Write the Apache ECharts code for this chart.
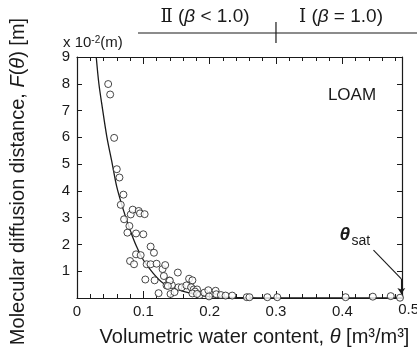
<!DOCTYPE html>
<html>
<head>
<meta charset="utf-8">
<script src="https://cdn.jsdelivr.net/npm/echarts@6/dist/echarts.min.js"></script>
<style>
html, body { margin: 0; padding: 0; background: #fff; }
#main { width: 417px; height: 356px; }
</style>
</head>
<body>
<div id="main"></div>
<script>
// measured points: theta [m3/m3] and F(theta) [x 10^-2 m]
var thetaObs = [0.047, 0.050, 0.056, 0.060, 0.064, 0.070, 0.066, 0.071, 0.076, 0.079,
                0.081, 0.084, 0.093, 0.095, 0.102, 0.089, 0.100, 0.089, 0.096, 0.080,
                0.086, 0.111, 0.116, 0.105, 0.111, 0.120, 0.103, 0.117, 0.129, 0.133,
                0.131, 0.135, 0.139, 0.143, 0.152, 0.153, 0.123, 0.141, 0.147, 0.158,
                0.165, 0.169, 0.174, 0.172, 0.176, 0.181, 0.178, 0.185, 0.192, 0.198,
                0.199, 0.209, 0.210, 0.217, 0.224, 0.234, 0.256, 0.260, 0.287, 0.302,
                0.405, 0.446, 0.473, 0.487, 0.174, 0.181, 0.140, 0.137];
var fObs = [7.99, 7.60, 5.98, 4.81, 4.50, 3.86, 3.48, 2.94, 2.44, 2.69,
            3.12, 3.30, 3.25, 3.16, 3.13, 2.41, 2.38, 1.63, 1.60, 1.38,
            1.26, 1.92, 1.69, 1.26, 1.26, 1.28, 0.69, 0.66, 1.08, 1.23,
            0.82, 0.47, 0.65, 0.48, 0.95, 0.40, 0.18, 0.15, 0.22, 0.40,
            0.47, 0.72, 0.66, 0.40, 0.32, 0.32, 0.24, 0.11, 0.20, 0.29,
            0.06, 0.27, 0.14, 0.11, 0.09, 0.09, 0.03, 0.03, 0.03, 0.03,
            0.03, 0.05, 0.07, 0.01, 0.17, 0.15, 0.65, 0.45];

// fitted curve
var thetaFit = [0.029, 0.033, 0.038, 0.045, 0.053, 0.060, 0.070, 0.080, 0.090, 0.100,
                0.115, 0.130, 0.150, 0.175, 0.200, 0.250, 0.300, 0.490];
var fFit = [9.0, 8.0, 7.14, 6.02, 5.03, 4.15, 3.28, 2.54, 1.91, 1.42,
            0.92, 0.55, 0.33, 0.15, 0.05, 0.01, 0.0, 0.0];

// theta_sat pointer (theta, F)
var satPointer = [[0.447, 1.79], [0.489, 0.71]];
var satArrowEnd = [0.489, 0.15];

var font = 'Liberation Sans, Arial, sans-serif';
var ink = '#1a1a1a';

var chart = echarts.init(document.getElementById('main'));

var obs = thetaObs.map(function (t, i) { return [t, fObs[i]]; });
var fit = thetaFit.map(function (t, i) { return [t, fFit[i]]; });

function xAxisBase(extra) {
  var a = {
    type: 'value',
    min: 0,
    max: 0.49,
    interval: 0.1,
    axisLine: { show: true, onZero: false, lineStyle: { color: ink, width: 1.2 } },
    axisTick: { show: true, inside: true, length: 7, lineStyle: { color: ink } },
    minorTick: { show: true, splitNumber: 5, length: 4, lineStyle: { color: ink } },
    axisLabel: { show: false },
    splitLine: { show: false },
    minorSplitLine: { show: false }
  };
  for (var k in extra) a[k] = extra[k];
  return a;
}

function yAxisBase(extra) {
  var a = {
    type: 'value',
    min: 0,
    max: 9,
    interval: 1,
    axisLine: { show: true, onZero: false, lineStyle: { color: ink, width: 1.2 } },
    axisTick: { show: true, inside: true, length: 5, lineStyle: { color: ink } },
    axisLabel: { show: false },
    splitLine: { show: false }
  };
  for (var k in extra) a[k] = extra[k];
  return a;
}

var option = {
  animation: false,
  backgroundColor: '#fff',
  textStyle: { fontFamily: font, color: ink },
  grid: { left: 73, right: 15, top: 57, bottom: 58 },
  xAxis: [
    xAxisBase({
      position: 'bottom',
      axisLabel: {
        show: true, color: ink, fontSize: 15, margin: 6,
        formatter: function (v) {
          if (v > 0.45) return '';
          return v === 0 ? '0' : v.toFixed(1);
        }
      },
      name: 'Volumetric water content, {i|θ} [m³/m³]',
      nameLocation: 'middle',
      nameGap: 29,
      nameTextStyle: {
        fontSize: 20, color: ink, fontFamily: font, padding: [0, 0, 0, 30],
        rich: { i: { fontSize: 20, fontStyle: 'italic', color: ink, fontFamily: font } }
      }
    }),
    xAxisBase({ position: 'top' })
  ],
  yAxis: [
    yAxisBase({
      position: 'left',
      axisLabel: {
        show: true, color: ink, fontSize: 15, margin: 7,
        formatter: function (v) { return v === 0 ? '' : String(v); }
      },
      name: 'Molecular diffusion distance, {i|F}({i|θ}) [m]',
      nameLocation: 'middle',
      nameRotate: 90,
      nameGap: 49,
      nameTextStyle: {
        fontSize: 20, color: ink, fontFamily: font, padding: [0, 8, 0, 0],
        rich: { i: { fontSize: 20, fontStyle: 'italic', color: ink, fontFamily: font } }
      }
    }),
    yAxisBase({ position: 'right' })
  ],
  series: [
    {
      type: 'line',
      data: fit,
      smooth: 0.3,
      symbol: 'none',
      silent: true,
      lineStyle: { color: ink, width: 1.3 },
      z: 2
    },
    {
      type: 'scatter',
      data: obs,
      symbol: 'circle',
      symbolSize: 7,
      silent: true,
      itemStyle: { color: '#fff', borderColor: ink, borderWidth: 1 },
      z: 3
    },
    {
      type: 'line',
      data: satPointer,
      symbol: 'none',
      silent: true,
      lineStyle: { color: ink, width: 1.1 },
      markLine: {
        silent: true,
        symbol: ['none', 'arrow'],
        symbolSize: 6,
        label: { show: false },
        lineStyle: { color: ink, width: 1.1, type: 'solid' },
        data: [[{ coord: satPointer[1] }, { coord: satArrowEnd }]]
      },
      z: 4
    }
  ]
};
chart.setOption(option);

var x03 = chart.convertToPixel({ xAxisIndex: 0 }, 0.3);
var x05 = chart.convertToPixel({ xAxisIndex: 0 }, 0.5);
var yBase = chart.convertToPixel({ yAxisIndex: 0 }, 0);
var satLabel = chart.convertToPixel({ xAxisIndex: 0, yAxisIndex: 0 }, satPointer[0]);

var regionRich = {
  r: { fontFamily: 'DejaVu Serif', fontSize: 18, fill: ink },
  i: { fontStyle: 'italic', fontSize: 19, fontFamily: font, fill: ink }
};

chart.setOption({
  graphic: [
    { type: 'line', shape: { x1: 138, y1: 33, x2: 417, y2: 33 }, style: { stroke: ink, lineWidth: 1.2 }, silent: true },
    { type: 'line', shape: { x1: x03, y1: 22, x2: x03, y2: 43 }, style: { stroke: ink, lineWidth: 1.2 }, silent: true },
    {
      type: 'text', silent: true, x: 205, y: 17,
      style: {
        text: '{r|Ⅱ} ({i|β} < 1.0)', align: 'center', verticalAlign: 'middle',
        font: '19px ' + font, fill: ink, rich: regionRich
      }
    },
    {
      type: 'text', silent: true, x: 341, y: 17,
      style: {
        text: '{r|Ⅰ} ({i|β} = 1.0)', align: 'center', verticalAlign: 'middle',
        font: '19px ' + font, fill: ink, rich: regionRich
      }
    },
    {
      type: 'text', silent: true, x: 63, y: 43,
      style: {
        text: 'x 10{s|-2}(m)', align: 'left', verticalAlign: 'middle',
        font: '15px ' + font, fill: ink,
        rich: { s: { fontSize: 10, fontFamily: font, fill: ink, verticalAlign: 'top', lineHeight: 16 } }
      }
    },
    {
      type: 'text', silent: true, x: 352, y: 95,
      style: { text: 'LOAM', align: 'center', verticalAlign: 'middle', font: '17px ' + font, fill: ink }
    },
    {
      type: 'text', silent: true, x: x05, y: yBase + 12,
      style: { text: '0.5', align: 'center', verticalAlign: 'middle', font: '15px ' + font, fill: ink }
    },
    {
      type: 'text', silent: true, x: satLabel[0] - 34, y: satLabel[1] - 15,
      style: { text: 'θ', align: 'left', verticalAlign: 'middle', font: 'italic bold 19px ' + font, fill: ink }
    },
    {
      type: 'text', silent: true, x: satLabel[0] - 22, y: satLabel[1] - 9,
      style: { text: 'sat', align: 'left', verticalAlign: 'middle', font: '14px ' + font, fill: ink }
    }
  ]
});
</script>
</body>
</html>
